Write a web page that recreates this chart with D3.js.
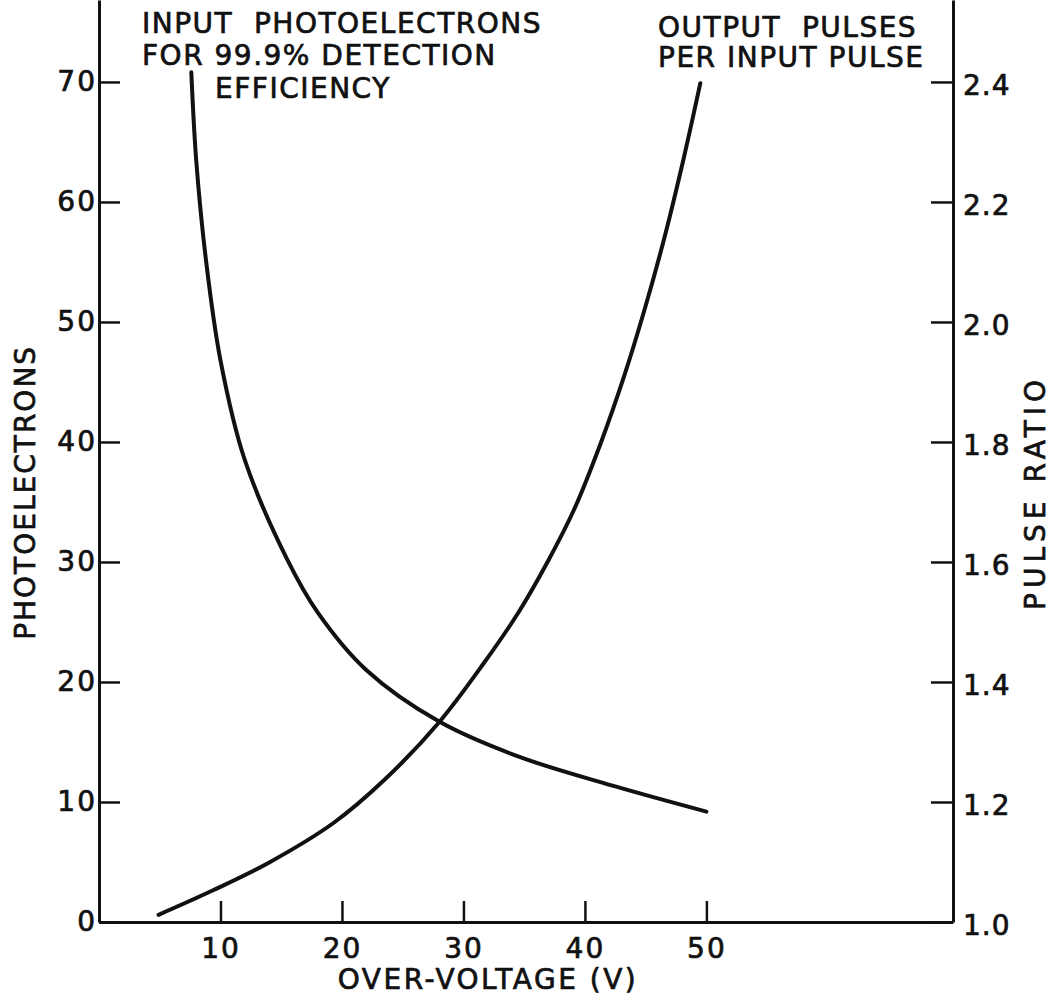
<!DOCTYPE html>
<html>
<head>
<meta charset="utf-8">
<script src="https://cdn.jsdelivr.net/npm/d3@7"></script>
<style>
  body { margin: 0; background: #fff; }
  text { font-family: "DejaVu Sans", sans-serif; fill: #111; stroke: #111; stroke-width: 0.7px; }
</style>
</head>
<body>
<div id="wrapper"></div>
<script>
// photoelectrons needed for 99.9% detection efficiency
const photoVolts = [7.6, 8.0, 8.8, 10.0, 12.0, 15.5, 18.0, 22.0, 28.0, 34.5, 42.5, 50.0]
const photoCounts = [70.8, 63.5, 55.2, 46.8, 38.5, 30.2, 25.8, 21.0, 16.7, 13.8, 11.3, 9.2]

// output pulses per input pulse
const ratioVolts = [4.9, 9.3, 13.9, 19.3, 23.5, 28.0, 31.7, 34.5, 37.0, 39.1, 41.3, 43.2, 44.9, 46.5, 48.1, 49.5]
const ratioValues = [1.012, 1.052, 1.098, 1.165, 1.237, 1.333, 1.432, 1.515, 1.603, 1.687, 1.798, 1.908, 2.02, 2.137, 2.27, 2.398]

const xTicks = [10, 20, 30, 40, 50]
const leftTicks = [0, 10, 20, 30, 40, 50, 60, 70]
const rightTicks = [1.0, 1.2, 1.4, 1.6, 1.8, 2.0, 2.2, 2.4]

function drawChart() {
  const dimensions = {
    width: 1054,
    height: 1002,
    left: 99,
    right: 953,
    bottom: 922,
  }

  const svg = d3.select("#wrapper")
    .append("svg")
    .attr("width", dimensions.width)
    .attr("height", dimensions.height)

  // scales (axes run up to the top edge of the picture)
  const xScale = d3.scaleLinear()
    .domain([0, 70.3])
    .range([dimensions.left, dimensions.right])

  const yScale = d3.scaleLinear()
    .domain([0, 76.83])
    .range([dimensions.bottom, 0])

  const rScale = d3.scaleLinear()
    .domain([1, 1 + 76.83 * 0.02])
    .range([dimensions.bottom, 0])

  const photoData = photoVolts.map((v, i) => [v, photoCounts[i]])
  const ratioData = ratioVolts.map((v, i) => [v, ratioValues[i]])

  // axes
  const styleAxis = g => {
    g.selectAll("path.domain").attr("stroke", "#111").attr("stroke-width", 3)
    g.selectAll(".tick line").attr("stroke", "#111").attr("stroke-width", 2.5)
    g.selectAll(".tick text")
      .style("font-family", "'DejaVu Sans', sans-serif")
      .style("font-size", "28px")
      .attr("fill", "#111")
  }

  const xAxis = svg.append("g")
    .attr("transform", `translate(0,${dimensions.bottom})`)
    .call(d3.axisBottom(xScale)
      .tickValues(xTicks)
      .tickSizeInner(-21)
      .tickSizeOuter(0)
      .tickPadding(16)
      .tickFormat(d3.format("d")))
    .call(styleAxis)
  xAxis.selectAll(".tick text").attr("dy", "0.72em").style("letter-spacing", "2px")

  const yAxis = svg.append("g")
    .attr("transform", `translate(${dimensions.left},0)`)
    .call(d3.axisLeft(yScale)
      .tickValues(leftTicks)
      .tickSizeInner(-21)
      .tickSizeOuter(0)
      .tickPadding(2)
      .tickFormat(d3.format("d")))
    .call(styleAxis)
  yAxis.selectAll(".tick text").style("letter-spacing", "2px")

  const rAxis = svg.append("g")
    .attr("transform", `translate(${dimensions.right},0)`)
    .call(d3.axisRight(rScale)
      .tickValues(rightTicks)
      .tickSizeInner(-22)
      .tickSizeOuter(0)
      .tickPadding(10)
      .tickFormat(d3.format(".1f")))
    .call(styleAxis)
  rAxis.selectAll(".tick text").attr("dy", "0.45em").style("letter-spacing", "1px")

  // curves
  const photoLine = d3.line()
    .x(d => xScale(d[0]))
    .y(d => yScale(d[1]))
    .curve(d3.curveCatmullRom.alpha(0.5))

  const ratioLine = d3.line()
    .x(d => xScale(d[0]))
    .y(d => rScale(d[1]))
    .curve(d3.curveCatmullRom.alpha(0.5))

  svg.append("path")
    .datum(photoData)
    .attr("d", photoLine)
    .attr("fill", "none")
    .attr("stroke", "#111")
    .attr("stroke-width", 4)
    .attr("stroke-linecap", "round")

  svg.append("path")
    .datum(ratioData)
    .attr("d", ratioLine)
    .attr("fill", "none")
    .attr("stroke", "#111")
    .attr("stroke-width", 4)
    .attr("stroke-linecap", "round")

  // labels
  const label = (x, y, str, anchor, spacing) => svg.append("text")
    .attr("x", x)
    .attr("y", y)
    .attr("text-anchor", anchor || "start")
    .style("font-size", "28px")
    .style("letter-spacing", spacing || "1.5px")
    .style("white-space", "pre")
    .text(str)

  label(142, 33, "INPUT  PHOTOELECTRONS")
  label(142, 65, "FOR 99.9% DETECTION")
  label(215, 98, "EFFICIENCY")
  label(658, 37, "OUTPUT  PULSES")
  label(658, 67, "PER INPUT PULSE")

  label(488, 989, "OVER-VOLTAGE (V)", "middle", "2.5px")

  svg.append("text")
    .attr("transform", `translate(35,${yScale(35.8)}) rotate(-90)`)
    .attr("text-anchor", "middle")
    .style("font-size", "28px")
    .style("letter-spacing", "2px")
    .text("PHOTOELECTRONS")

  svg.append("text")
    .attr("transform", `translate(1045,${yScale(35.8)}) rotate(-90)`)
    .attr("text-anchor", "middle")
    .style("font-size", "28px")
    .style("letter-spacing", "5px")
    .text("PULSE RATIO")
}

drawChart()
</script>
</body>
</html>
